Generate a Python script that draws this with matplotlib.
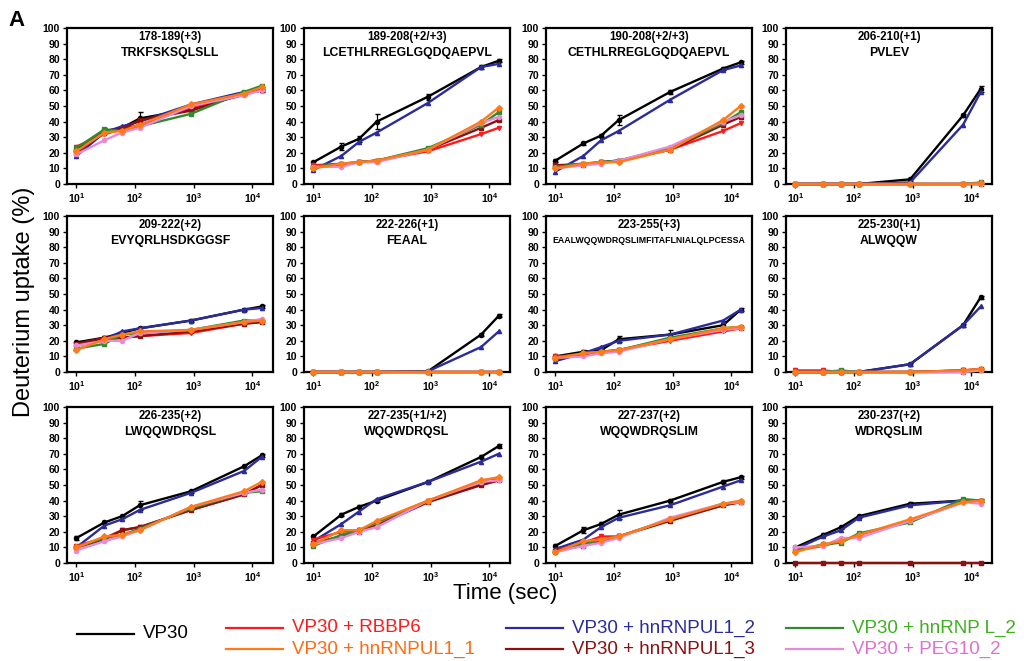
import numpy as np
import matplotlib
matplotlib.use("Agg")
import matplotlib.pyplot as plt
from matplotlib.lines import Line2D

plt.rcParams["font.family"] = ["Liberation Sans", "DejaVu Sans"]

# time points (sec)
t = [10, 30, 60, 120, 900, 7200, 14400]

series = ["VP30", "VP30 + hnRNPUL1_2", "VP30 + RBBP6", "VP30 + hnRNPUL1_3",
          "VP30 + hnRNP L_2", "VP30 + PEG10_2", "VP30 + hnRNPUL1_1"]
colors = ["#000000", "#2b2b9c", "#ff1a1a", "#8b1010", "#2e8b2e", "#e88ad6", "#ff7a1a"]
text_colors = ["#000000", "#2b2b9c", "#ff1a1a", "#8b1010", "#3db01f", "#e070d0", "#ff6a10"]
markers = ["o", "^", "v", "s", "s", "o", "D"]

titles = ["178-189(+3)", "189-208(+2/+3)", "190-208(+2/+3)", "206-210(+1)",
          "209-222(+2)", "222-226(+1)", "223-255(+3)", "225-230(+1)",
          "226-235(+2)", "227-235(+1/+2)", "227-237(+2)", "230-237(+2)"]
peptides = ["TRKFSKSQLSLL", "LCETHLRREGLGQDQAEPVL", "CETHLRREGLGQDQAEPVL", "PVLEV",
            "EVYQRLHSDKGGSF", "FEAAL", "EAALWQQWDRQSLIMFITAFLNIALQLPCESSA", "ALWQQW",
            "LWQQWDRQSL", "WQQWDRQSL", "WQQWDRQSLIM", "WDRQSLIM"]

# uptake (%) per panel, order as in `series`
p1 = [[22, 34, 36, 42, 48, 58, 60], [18, 33, 37, 40, 51, 59, 61], [24, 32, 35, 38, 49, 57, 61],
      [20, 34, 35, 41, 47, 58, 60], [23, 35, 34, 37, 45, 59, 63], [19, 28, 33, 36, 50, 57, 60],
      [21, 33, 34, 38, 51, 58, 62]]
p2 = [[14, 24, 29, 40, 56, 75, 79], [9, 18, 27, 33, 52, 75, 77], [12, 13, 14, 15, 21, 32, 36],
      [11, 12, 14, 15, 22, 36, 41], [11, 13, 14, 15, 23, 38, 46], [11, 11, 14, 14, 22, 39, 43],
      [10, 13, 14, 15, 22, 40, 49]]
p3 = [[15, 26, 31, 41, 59, 74, 78], [8, 18, 28, 34, 54, 73, 76], [12, 13, 14, 15, 22, 34, 39],
      [12, 12, 14, 15, 22, 38, 43], [11, 13, 14, 15, 23, 39, 46], [10, 12, 13, 15, 24, 40, 44],
      [10, 13, 14, 14, 22, 41, 50]]
p4 = [[0, 0, 0, 0, 3, 44, 61], [0, 0, 0, 0, 1, 38, 59], [0, 0, 0, 0, 0, 0, 0],
      [0, 0, 0, 0, 0, 0, 0], [0, 0, 0, 0, 0, 0, 1], [0, 0, 0, 0, 0, 0, 0],
      [0, 0, 0, 0, 0, 0, 0.5]]
p5 = [[19, 22, 25, 28, 33, 40, 42], [18, 21, 26, 28, 33, 40, 41], [17, 20, 22, 23, 25, 31, 32],
      [18, 22, 22, 23, 26, 31, 32], [15, 18, 24, 25, 27, 33, 33], [17, 20, 20, 25, 27, 32, 34],
      [14, 21, 24, 26, 27, 32, 33]]
p6 = [[0, 0, 0, 0, 0.5, 24, 36], [0, 0, 0, 0, 0.5, 16, 26], [0, 0, 0, 0, 0, 0, 0],
      [0, 0, 0, 0, 0, 0, 0], [0, 0, 0, 0, 0, 0, 0], [0, 0, 0, 0, 0, 0, 0],
      [0, 0, 0, 0, 0, 0, 0]]
p7 = [[10, 13, 14, 21, 24, 30, 40], [7, 12, 16, 20, 24, 33, 40], [10, 11, 12, 14, 20, 26, 28],
      [9, 11, 13, 14, 21, 27, 28], [9, 12, 13, 14, 22, 28, 29], [9, 10, 12, 13, 21, 27, 28],
      [9, 12, 13, 14, 21, 28, 29]]
p8 = [[0, 0, 0, 0, 5, 30, 48], [0, 0, 0, 0, 5, 30, 42], [1, 1, 0, 0, 0, 1, 1],
      [0, 0, 0, 0, 0, 1, 2], [0, 0, 1, 0, 0, 0, 1], [0, 0, 0, 0, 0, 0, 1],
      [0, 0, 0, 0, 0, 1, 2]]
p9 = [[16, 26, 30, 37, 46, 62, 69], [10, 24, 28, 34, 45, 59, 68], [11, 16, 21, 23, 34, 44, 50],
      [10, 15, 21, 23, 34, 44, 50], [10, 16, 18, 22, 35, 45, 46], [8, 14, 17, 21, 36, 45, 47],
      [10, 17, 18, 21, 36, 46, 52]]
p10 = [[17, 31, 36, 40, 52, 68, 75], [14, 25, 33, 41, 52, 65, 70], [15, 20, 21, 24, 40, 50, 53],
       [13, 17, 20, 24, 39, 50, 53], [11, 18, 21, 26, 40, 52, 54], [12, 16, 20, 23, 40, 52, 53],
       [12, 21, 21, 27, 40, 53, 55]]
p11 = [[11, 21, 25, 31, 40, 52, 55], [9, 15, 23, 29, 37, 49, 53], [8, 13, 17, 17, 28, 37, 39],
       [8, 11, 14, 17, 27, 37, 39], [7, 12, 15, 17, 28, 38, 39], [7, 11, 13, 16, 29, 38, 39],
       [7, 14, 15, 17, 28, 38, 40]]
p12 = [[10, 18, 23, 30, 38, 40, 40], [9, 17, 21, 29, 37, 40, 40], [8, 11, 14, 18, 27, 39, 40],
       [0, 0, 0, 0, 0, 0, 0], [8, 12, 13, 19, 26, 41, 40], [10, 11, 16, 16, 27, 39, 38],
       [7, 12, 14, 18, 28, 39, 40]]
panels = [p1, p2, p3, p4, p5, p6, p7, p8, p9, p10, p11, p12]

# VP30 error bars per panel
err_vp30 = [[2, 2, 1, 4, 1, 1, 1], [1, 2, 2, 5, 2, 1, 1], [1, 1, 1, 3, 1, 1, 1], [0, 0, 0, 0, 1, 1, 2],
            [1, 1, 1, 1, 1, 1, 1], [0, 0, 0, 0, 0, 1, 1], [1, 1, 1, 2, 3, 3, 1], [0, 0, 0, 0, 1, 1, 1],
            [1, 1, 1, 3, 1, 1, 1], [1, 1, 1, 1, 1, 1, 1], [1, 2, 1, 3, 1, 1, 1], [1, 1, 1, 1, 1, 1, 1]]

fig = plt.figure(figsize=(10.24, 6.61), dpi=100)
W, H = 1024, 661
lefts = [67, 304, 546, 786]
tops = [28, 216, 407]
aw, ah = 206, 156

for i, data in enumerate(panels):
    r, c = divmod(i, 4)
    ax = fig.add_axes([lefts[c] / W, 1 - (tops[r] + ah) / H, aw / W, ah / H])
    for k in range(len(series)):
        yerr = err_vp30[i] if k == 0 else None
        ax.errorbar(t, data[k], yerr=yerr, color=colors[k], marker=markers[k], ms=3,
                    lw=1.7, capsize=1.8, elinewidth=0.9, clip_on=False, zorder=3 + k)
    ax.set_xscale("log")
    ax.set_xlim(10 ** 0.84, 10 ** 4.35)
    ax.set_ylim(0, 100)
    ax.set_yticks(range(0, 101, 10))
    ax.set_xticks([10, 100, 1000, 10000])
    ax.xaxis.set_minor_locator(matplotlib.ticker.NullLocator())
    ax.tick_params(labelsize=7.5, length=3, width=1, direction="out", pad=2)
    for lab in ax.get_xticklabels() + ax.get_yticklabels():
        lab.set_fontweight("bold")
    for s in ax.spines.values():
        s.set_linewidth(1.6)
    ax.text(0.5, 0.94, titles[i], transform=ax.transAxes, ha="center", va="center",
            fontsize=8.3, fontweight="bold")
    ax.text(0.5, 0.84, peptides[i], transform=ax.transAxes, ha="center", va="center",
            fontsize=6.3 if len(peptides[i]) > 25 else 8.8, fontweight="bold")

fig.text(8 / W, 1 - 21 / H, "A", fontsize=16, fontweight="bold", va="center")
fig.text(24 / W, 1 - 302 / H, "Deuterium uptake (%)", rotation=90, fontsize=17,
         ha="center", va="center")
fig.text(505 / W, 1 - 594 / H, "Time (sec)", fontsize=16, ha="center", va="center")

# legend
leg = [(0, 77, 634), (2, 226, 628), (6, 226, 649), (1, 506, 628),
       (3, 506, 649), (4, 786, 628), (5, 786, 649)]
for k, x0, y0 in leg:
    fig.add_artist(Line2D([x0 / W, (x0 + 57) / W], [1 - y0 / H, 1 - y0 / H],
                          color=colors[k], lw=1.6, transform=fig.transFigure))
    fig.text((x0 + 66) / W, 1 - y0 / H, series[k], color=text_colors[k], fontsize=13.5,
             ha="left", va="center")

fig.savefig("out.png", dpi=100)
